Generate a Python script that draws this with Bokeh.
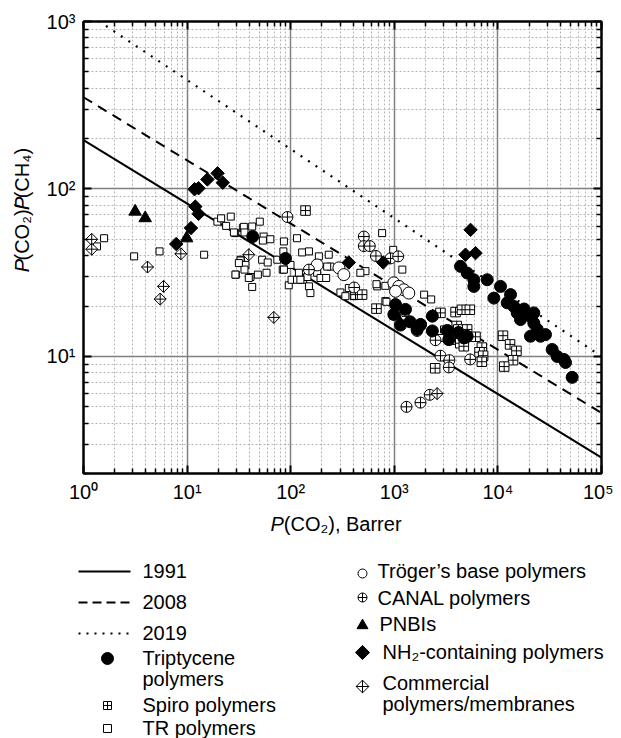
import math
from bokeh.plotting import figure
from bokeh.models import Range1d, LogAxis, FixedTicker, CustomJSTickFormatter
from bokeh.layouts import column, row
from bokeh.embed import file_html
from bokeh.resources import INLINE
from bokeh.core.properties import value

FONT = "Liberation Sans"

# ---------------- data ----------------
x_ticks = [1, 10, 100, 1000, 10000, 100000]
y_ticks = [10, 100, 1000]

bound_x = [1, 100000]
bound_1991_y = [196, 2.49]
bound_2008_y = [353, 4.6]
bound_2019_y = [1157, 10.0]

tript_x = [43, 89, 1028, 990, 1282, 1148, 1420, 1725, 1790, 1660, 2330, 2330, 3250, 3357, 4170, 4690, 4862, 5050,
           4355, 5050, 5860, 5860, 7890, 9140, 10600, 13240, 12300, 14260, 15350, 16530, 17900, 20630, 22230, 22230,
           20630, 23950, 25790, 28790, 33400, 37350, 43300, 44950, 52100]
tript_y = [52, 38.5, 20.4, 17.8, 19.1, 15.4, 16.1, 15.1, 15.5, 14.5, 17.4, 14.2, 14.3, 12.6, 13.9, 12.9, 13.0, 13.2,
           34.5, 31.5, 28.7, 26.2, 28.7, 22.3, 26.2, 23.4, 20.9, 19.9, 18.2, 16.6, 19.2, 17.4, 18.2, 15.8,
           13.2, 14.5, 13.2, 13.5, 11.0, 10.0, 9.6, 9.2, 7.5]

spiro_x = [139, 422, 489, 673, 1028, 2790, 3900, 4500, 5360, 4000, 4150, 5050, 3490, 4330, 4690, 6080, 7000,
           6640, 7200, 7000, 2480, 11200, 13100, 15100, 14000, 11500]
spiro_y = [74.3, 23.4, 23.4, 19.3, 17.8, 18.2, 18.4, 19.0, 19.0, 15.2, 14.5, 14.5, 12.6, 12.0, 11.5, 13.1, 11.3,
           10.6, 10.1, 9.3, 8.5, 13.3, 11.8, 10.8, 9.5, 8.7]

tr_x = [1.58, 1.35, 3.08, 5.42, 14.6, 19.6, 23.8, 26.4, 29.1, 33, 29.5, 34.5, 21.3, 35.3, 42.5, 50.3, 28.3, 35.8,
        54.8, 63.6, 53.9, 86, 115, 129, 150, 187, 233, 32.8, 36.6, 35.8, 29.3, 40.9, 48.2, 58.4, 42.5, 53, 60,
        74.3, 83.8, 85, 95.8, 99.6, 102, 115, 132, 150, 155, 120, 145, 180, 194, 220, 242, 302, 337, 364, 406,
        527, 684, 763, 820, 1195, 673, 820, 1940, 2270, 840, 1280, 2790, 3020, 976, 470, 225, 39.4, 31.6, 124, 86]
tr_y = [50.8, 45.4, 39.6, 42.4, 40.5, 63.8, 60.2, 68.4, 54.5, 37.8, 30.8, 58.4, 66.8, 59.4, 59.7, 63.8, 55, 55,
        52, 50.1, 49.2, 48.6, 50.8, 41.8, 42.4, 39.6, 40.5, 37.4, 35.2, 33, 30.8, 29.8, 30.8, 31.6, 26, 37.8, 36.4,
        37.8, 33, 42.4, 26.6, 35.2, 28.7, 28.7, 28.7, 26.2, 23.9, 31.6, 29.8, 31.6, 29.4, 29.4, 34.4, 24.1, 22.9,
        25.6, 22.9, 32.3, 26.2, 54.5, 21.4, 33, 27, 26.4, 23.4, 21.9, 21.2, 18.2, 12.9, 14.5, 43.3, 31.6, 34.4,
        29.4, 36.1, 28.7, 33]

troger_x = [180, 292, 326, 989, 1107, 1236, 1380, 1028, 1790]
troger_y = [35.2, 33.8, 30.8, 27.5, 26.2, 25.0, 23.9, 24.5, 15.5]

canal_x = [93, 150, 410, 508, 508, 580, 665, 920, 1090, 2500, 2790, 3400, 3360, 5400, 1312, 1790, 2200, 1660]
canal_y = [68, 33, 25.8, 52, 45.6, 45.6, 39.8, 38.5, 39.6, 12.5, 10.1, 9.5, 8.6, 9.6, 5.0, 5.3, 5.9, 14.2]

pnbi_x = [3.15, 3.94, 9.9, 1030]
pnbi_y = [73.3, 67, 50.8, 17.6]

nh2_x = [7.85, 10.9, 12.0, 12.9, 11.8, 12.9, 15.7, 19.7, 22.1, 364, 781, 5445, 4865, 6080]
nh2_y = [46.9, 58.4, 78.5, 71, 99.6, 101, 114, 124, 109, 36.4, 36.4, 57, 40.5, 41.4]

comm_x = [1.2, 1.2, 4.15, 5.92, 5.5, 8.7, 39.4, 68.7, 2590]
comm_y = [50, 43.7, 34.2, 26.2, 22, 41, 40.5, 17.1, 6.0]

# ---------------- main plot ----------------
p = figure(width=575, height=510, x_axis_type="log", y_axis_type="log",
           x_range=Range1d(1, 1e5), y_range=Range1d(2, 1000),
           output_backend="svg", toolbar_location=None,
           min_border_left=45, min_border_right=12, min_border_top=21, min_border_bottom=37)
p.background_fill_color = "white"
p.border_fill_color = "white"
p.outline_line_color = "black"
p.outline_line_width = 2

x_minor = [m * 10 ** e for e in range(0, 5) for m in range(2, 10)]
y_minor = [m * 10 ** e for e in range(0, 3) for m in range(2, 10)]
xticker = FixedTicker(ticks=x_ticks, minor_ticks=x_minor)
yticker = FixedTicker(ticks=y_ticks, minor_ticks=y_minor)

fmt = CustomJSTickFormatter(code="""
const s = {"0":"\u2070","1":"\u00b9","2":"\u00b2","3":"\u00b3","4":"\u2074","5":"\u2075","-":"\u207b"};
const e = Math.round(Math.log10(tick));
return "10" + String(e).split("").map(c => s[c]).join("");
""")


def style_axis(ax, ticker, labels):
    ax.ticker = ticker
    ax.axis_line_width = 2
    ax.axis_line_color = "black"
    ax.major_tick_in = 8
    ax.major_tick_out = 0
    ax.minor_tick_in = 5
    ax.minor_tick_out = 0
    ax.major_tick_line_width = 2
    ax.minor_tick_line_width = 1.5
    ax.major_tick_line_color = "black"
    ax.minor_tick_line_color = "black"
    ax.axis_label = None
    if labels:
        ax.formatter = fmt
        ax.major_label_text_font = FONT
        ax.major_label_text_font_size = "20px"
        ax.major_label_text_color = "black"
    else:
        ax.major_label_text_font_size = "2px"
        ax.major_label_text_alpha = 0
        ax.major_label_standoff = 0


style_axis(p.below[0], xticker, True)
p.below[0].major_label_standoff = 7
style_axis(p.left[0], yticker, True)
p.left[0].major_label_standoff = 8

top_ax = LogAxis()
right_ax = LogAxis()
style_axis(top_ax, xticker, False)
style_axis(right_ax, yticker, False)
p.add_layout(top_ax, "above")
p.add_layout(right_ax, "right")

for g, t in ((p.xgrid[0], xticker), (p.ygrid[0], yticker)):
    g.ticker = t
    g.grid_line_color = "#808080"
    g.grid_line_width = 1.5
    g.minor_grid_line_color = "#b4b4b4"
    g.minor_grid_line_dash = "2 2"
    g.minor_grid_line_width = 1

# upper bounds
p.line(bound_x, bound_1991_y, line_color="black", line_width=2)
p.line(bound_x, bound_2008_y, line_color="black", line_width=2, line_dash="10 7")
p.line(bound_x, bound_2019_y, line_color="black", line_width=2.2, line_dash="2 7")

# markers
p.scatter(tr_x, tr_y, marker="square", size=7, fill_color="white", line_color="black", line_width=1)
p.scatter(spiro_x, spiro_y, marker="square_cross", size=9.5, fill_color="white", line_color="black", line_width=1)
p.scatter(troger_x, troger_y, marker="circle", size=12, fill_color="white", line_color="black", line_width=1)
p.scatter(canal_x, canal_y, marker="circle_cross", size=11, fill_color="white", line_color="black", line_width=1)
p.scatter(comm_x, comm_y, marker="square", angle=math.pi / 4, size=8.5, fill_color="white",
          line_color="black", line_width=1)
p.scatter(comm_x, comm_y, marker="cross", size=12, line_color="black", line_width=1)
p.scatter(pnbi_x, pnbi_y, marker="triangle", size=12.5, fill_color="black", line_color="black")
p.scatter(nh2_x, nh2_y, marker="square", angle=math.pi / 4, size=9.5, fill_color="black", line_color="black")
p.scatter(tript_x, tript_y, marker="circle", size=12, fill_color="black", line_color="black")

# ---------------- y-axis title (left strip) ----------------
yf = figure(width=38, height=510, x_range=Range1d(0, 38), y_range=Range1d(510, 0),
            output_backend="svg", toolbar_location=None, min_border=0,
            x_axis_location=None, y_axis_location=None)
yf.grid.visible = False
yf.outline_line_color = None
ytitle_parts = ["P", "(CO\u2082)/", "P", "(CH\u2084)"]
ytitle_style = ["italic", "normal", "italic", "normal"]
ytitle_pos = [283.0, 269.7, 212.8, 199.5]
for t, s, yy in zip(ytitle_parts, ytitle_style, ytitle_pos):
    yf.text(x=[21], y=[yy], text=[t], angle=math.pi / 2, text_font=value(FONT), text_font_size="20px",
            text_font_style=s, text_align="left", text_baseline="middle", text_color="black")

# ---------------- bottom: x title + legend ----------------
lf = figure(width=621, height=228, x_range=Range1d(0, 621), y_range=Range1d(738, 510),
            output_backend="svg", toolbar_location=None, min_border=0,
            x_axis_location=None, y_axis_location=None)
lf.grid.visible = False
lf.outline_line_color = None


def txt(x, y, s, style="normal"):
    lf.text(x=[x], y=[y], text=[s], text_font=value(FONT), text_font_size="20px", text_font_style=style,
            text_align="left", text_baseline="middle", text_color="black")


txt(270, 523, "P", "italic")
txt(283.3, 523, "(CO\u2082), Barrer")

# left legend column
lf.line([78, 130], [571, 571], line_color="black", line_width=2)
lf.line([78, 130], [602, 602], line_color="black", line_width=2, line_dash="9 5")
lf.line([78, 130], [633, 633], line_color="black", line_width=2.2, line_dash="2 6")
txt(142, 570, "1991")
txt(142, 601, "2008")
txt(142, 632, "2019")
lf.scatter([107], [658], marker="circle", size=12, fill_color="black", line_color="black")
txt(142, 657, "Triptycene")
txt(142, 678, "polymers")
lf.scatter([107], [705], marker="square_cross", size=8, fill_color="white", line_color="black", line_width=1)
txt(142, 704, "Spiro polymers")
lf.scatter([107], [728], marker="square", size=8, fill_color="white", line_color="black", line_width=1)
txt(142, 727, "TR polymers")

# right legend column
lf.scatter([362], [573], marker="circle", size=9, fill_color="white", line_color="black", line_width=1)
txt(377, 570, "Tr\u00f6ger\u2019s base polymers")
lf.scatter([362], [597], marker="circle_cross", size=9, fill_color="white", line_color="black", line_width=1)
txt(377, 597, "CANAL polymers")
lf.scatter([362], [625], marker="triangle", size=11, fill_color="black", line_color="black")
txt(379, 623, "PNBIs")
lf.scatter([362], [652], marker="square", angle=math.pi / 4, size=10, fill_color="black", line_color="black")
txt(382, 651, "NH\u2082-containing polymers")
lf.scatter([362], [686], marker="square", angle=math.pi / 4, size=9, fill_color="white", line_color="black",
           line_width=1)
lf.scatter([362], [686], marker="cross", size=12.5, line_color="black", line_width=1)
txt(382, 682, "Commercial")
txt(382, 703, "polymers/membranes")

layout = column(row(yf, p, spacing=0), lf, spacing=0)
open("out.html", "w").write(file_html(layout, INLINE))
